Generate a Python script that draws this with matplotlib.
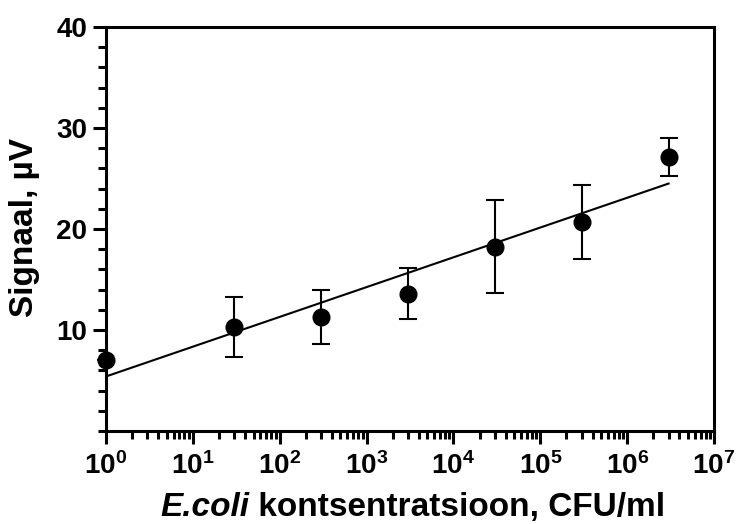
import matplotlib
matplotlib.use("Agg")
import matplotlib.pyplot as plt
import matplotlib.ticker as mticker
import numpy as np

plt.rcParams['font.family'] = ['Liberation Sans', 'DejaVu Sans']
plt.rcParams['font.weight'] = 'bold'
plt.rcParams['mathtext.fontset'] = 'custom'
plt.rcParams['mathtext.rm'] = 'Liberation Sans:bold'
plt.rcParams['mathtext.it'] = 'Liberation Sans:italic:bold'
plt.rcParams['mathtext.bf'] = 'Liberation Sans:bold'

# data
conc = [1, 30, 300, 3000, 30000, 300000, 3000000]
signal = [7.0, 10.3, 11.3, 13.6, 18.25, 20.7, 27.1]
err_up = [0.0, 3.0, 2.7, 2.5, 4.65, 3.7, 1.9]
err_down = [0.0, 3.0, 2.7, 2.5, 4.55, 3.7, 1.9]

fit_x = [1, 3000000]
fit_y = [5.4, 24.5]

x_ticks = [1, 10, 100, 1000, 10000, 100000, 1000000, 10000000]
y_ticks = [10, 20, 30, 40]

W, H = 737, 524
fig = plt.figure(figsize=(W / 100, H / 100), dpi=100)
ax = fig.add_axes([106 / W, 1 - 431 / H, (714 - 106) / W, (431 - 27) / H])

ax.plot(fit_x, fit_y, color='black', lw=1.5, zorder=2)
ax.errorbar(conc, signal, yerr=[err_down, err_up], fmt='o', color='black',
            ms=12, elinewidth=1.5, capsize=6.5, capthick=1.5,
            clip_on=False, zorder=3)

ax.set_xscale('log')
ax.set_xlim(1, 1e7)
ax.set_ylim(0, 40)
ax.set_xticks(x_ticks)
ax.xaxis.set_major_formatter(mticker.LogFormatterSciNotation())
ax.xaxis.set_minor_locator(mticker.LogLocator(base=10, subs=np.arange(2, 10), numticks=20))
ax.xaxis.set_minor_formatter(mticker.NullFormatter())
ax.set_yticks(y_ticks)
ax.yaxis.set_minor_locator(mticker.MultipleLocator(2))

for s in ax.spines.values():
    s.set_linewidth(2.2)

ax.tick_params(which='major', direction='out', length=9.4, width=2.2,
               labelsize=20, pad=4)
ax.tick_params(which='minor', direction='out', length=5.8, width=2.2)
ax.tick_params(top=False, right=False, which='both')
ax.tick_params(axis='x', which='major', pad=6)
for lab in ax.get_yticklabels():
    lab.set_fontweight('bold')

fig.text(25 / W, 1 - 227 / H, 'Signaal, µV', fontsize=24, fontweight='bold',
         rotation=90, ha='center', va='center')

# x label: italic "E.coli" followed by bold rest
t1 = fig.text(160 / W, 1 - 516 / H, 'E.coli', fontsize=24,
              fontweight='bold', fontstyle='italic', ha='left', va='baseline')
ax.annotate(' kontsentratsioon, CFU/ml', xy=(1, 0), xycoords=t1,
            fontsize=24, fontweight='bold', ha='left', va='bottom',
            annotation_clip=False)

fig.savefig('out.png', dpi=100)
